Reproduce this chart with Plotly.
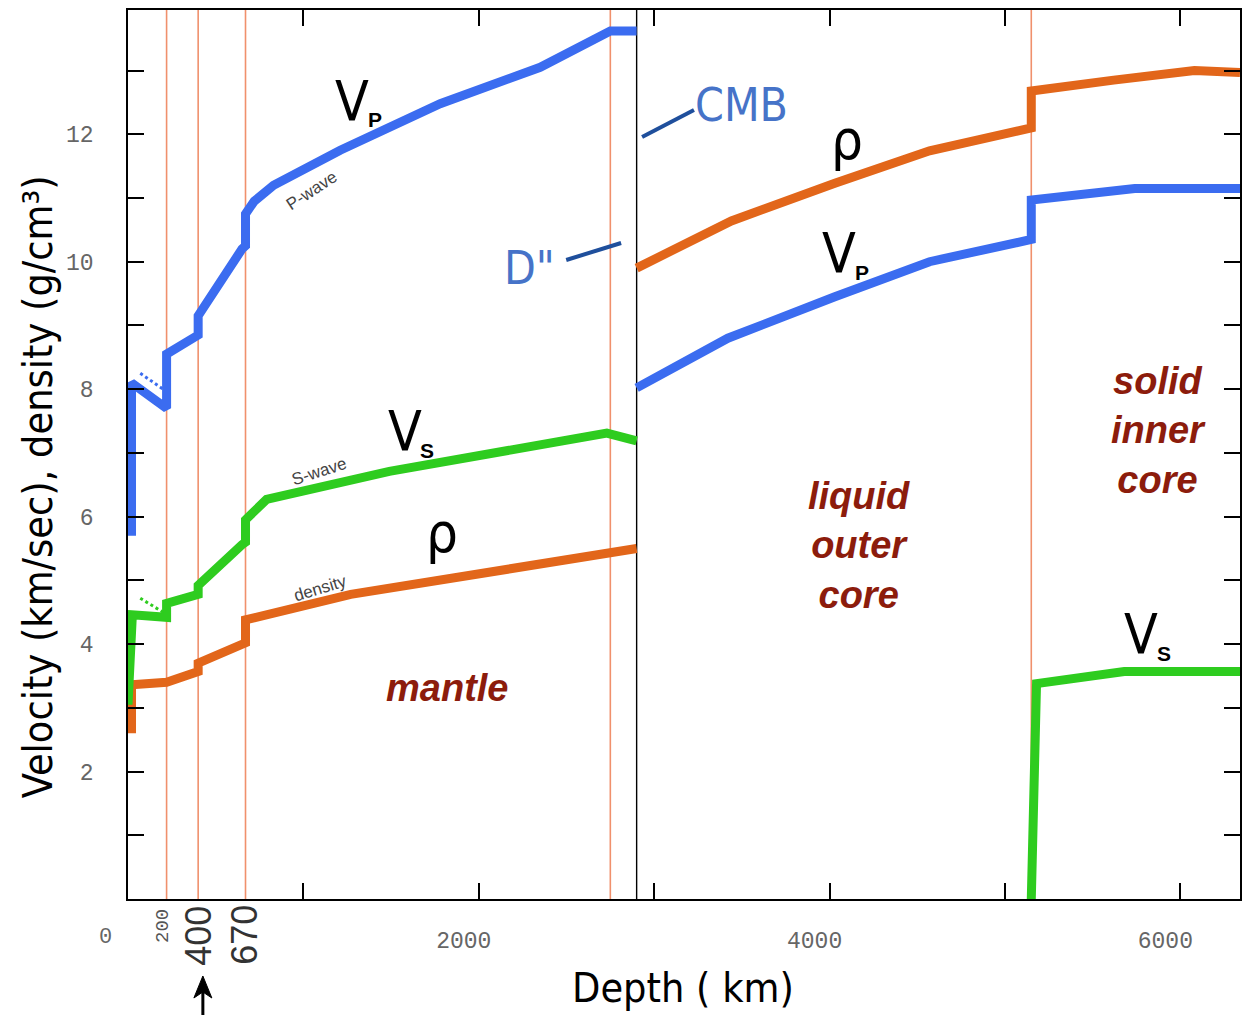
import plotly.graph_objects as go

# ---------------- data (depth in km, values) ----------------
vp_mantle_depth = [20, 20, 220, 220, 400, 400, 650, 670, 670, 720, 830, 1210, 1780, 2350, 2750, 2900]
vp_mantle_val = [5.7, 8.1, 7.7, 8.55, 8.85, 9.15, 10.2, 10.25, 10.75, 10.95, 11.2, 11.75, 12.48, 13.05, 13.62, 13.62]

vp_core_depth = [2900, 3420, 4030, 4570, 5150, 5150, 5740, 6340]
vp_core_val = [8.02, 8.8, 9.45, 10.0, 10.35, 10.97, 11.15, 11.15]

rho_mantle_depth = [20, 20, 220, 400, 400, 650, 670, 670, 1270, 2900]
rho_mantle_val = [2.6, 3.36, 3.4, 3.57, 3.7, 4.0, 4.02, 4.38, 4.78, 5.5]

rho_core_depth = [2900, 3440, 4030, 4570, 5150, 5150, 5620, 6080, 6340]
rho_core_val = [9.9, 10.64, 11.23, 11.74, 12.1, 12.68, 12.85, 13.0, 12.97]

vs_mantle_depth = [0, 25, 220, 220, 400, 400, 650, 670, 670, 790, 1490, 2160, 2730, 2900]
vs_mantle_val = [3.05, 4.46, 4.42, 4.64, 4.78, 4.92, 5.56, 5.6, 5.95, 6.27, 6.71, 7.03, 7.31, 7.19]

vs_inner_depth = [5150, 5180, 5680, 6340]
vs_inner_val = [0, 3.38, 3.57, 3.57]

lvz_vp_depth = [70, 200]
lvz_vp_val = [8.25, 8.0]
lvz_vs_depth = [70, 200]
lvz_vs_val = [4.72, 4.5]

discontinuity_depths = [220, 400, 670, 2750, 5150]
cmb_depth = 2900

x_tick_vals = [2000, 4000, 6000]
x_tick_text = ["2000", "4000", "6000"]
x_minor_step = 1000
y_tick_vals = [2, 4, 6, 8, 10, 12]
y_tick_text = ["2", "4", "6", "8", "10", "12"]
y_minor_step = 1

X_RANGE = [0, 6340]
Y_RANGE = [0, 13.95]

# ---------------- styling ----------------
BLUE = "#3b6cf0"
ORANGE = "#e2661a"
GREEN = "#2ecc1f"
SALMON = "#f0906c"
DARKRED = "#8c1c0c"
CMBBLUE = "#4673c8"
LEADER = "#1f4f9c"
NARROW = "Liberation Sans Narrow, DejaVu Sans Condensed, Arial Narrow, sans-serif"
SANS = "Liberation Sans, Arial, sans-serif"
MONO = "Liberation Mono, DejaVu Sans Mono, monospace"

W, H = 1242, 1015
L, R, T, B = 128, 0, 10, 116
PW = W - L - R
PH = H - T - B


def PX(px):
    return (px - L) / PW


def PY(py):
    return (H - B - py) / PH


def DX(px):
    return X_RANGE[0] + PX(px) * (X_RANGE[1] - X_RANGE[0])


def DY(py):
    return Y_RANGE[0] + PY(py) * (Y_RANGE[1] - Y_RANGE[0])


fig = go.Figure()

# discontinuity lines
vx, vy = [], []
for d in discontinuity_depths:
    vx += [d, d, None]
    vy += [Y_RANGE[0], Y_RANGE[1], None]
fig.add_trace(go.Scatter(x=vx, y=vy, mode="lines", line=dict(color=SALMON, width=1.6), hoverinfo="skip"))
fig.add_trace(go.Scatter(x=[cmb_depth, cmb_depth], y=Y_RANGE, mode="lines",
                         line=dict(color="black", width=1.4), hoverinfo="skip"))


def curve(xs, ys, color, width=9, dash=None):
    fig.add_trace(go.Scatter(x=xs, y=ys, mode="lines",
                             line=dict(color=color, width=width, dash=dash), hoverinfo="skip"))


curve(vp_mantle_depth, vp_mantle_val, BLUE)
curve(vp_core_depth, vp_core_val, BLUE)
curve(rho_mantle_depth, rho_mantle_val, ORANGE)
curve(rho_core_depth, rho_core_val, ORANGE)
curve(vs_mantle_depth, vs_mantle_val, GREEN)
curve(vs_inner_depth, vs_inner_val, GREEN)
curve(lvz_vp_depth, lvz_vp_val, BLUE, width=3, dash="dot")
curve(lvz_vs_depth, lvz_vs_val, GREEN, width=3, dash="dot")

ann = []


def text(px, py, s, size, family=SANS, color="black", angle=0, **kw):
    ann.append(dict(x=PX(px), y=PY(py), xref="paper", yref="paper", text=s, showarrow=False,
                    font=dict(size=size, family=family, color=color), textangle=angle,
                    xanchor="center", yanchor="middle", borderpad=0, **kw))


def vlabel(px, py, sub):
    text(px, py, "V", 55, NARROW)
    text(px + 23, py + 19, "<b>%s</b>" % sub, 21, SANS)


# curve labels
vlabel(352, 101, "P")
vlabel(405, 431, "S")
vlabel(840, 253, "P")
vlabel(1143, 634, "S")
text(443, 532, "ρ", 56, NARROW)
text(848, 140, "ρ", 56, NARROW)

text(312, 190, "P-wave", 17, SANS, "#444", -33)
text(320, 472, "S-wave", 17, SANS, "#444", -18)
text(320, 588, "density", 17, SANS, "#444", -17)

# region labels
text(448, 688, "<b><i>mantle</i></b>", 38, SANS, DARKRED)
text(860, 545, "<b><i>liquid<br>outer<br>core</i></b>", 38, SANS, DARKRED)
text(1160, 430, "<b><i>solid<br>inner<br>core</i></b>", 38, SANS, DARKRED)

# CMB and D''
text(743, 105, "CMB", 46, NARROW, CMBBLUE)
text(530, 268, 'D"', 46, NARROW, CMBBLUE)

# axis titles
text(38, 487, "Velocity (km/sec), density (g/cm³)", 41, NARROW, "black", -90)
text(684, 988, "Depth ( km)", 41, NARROW)

# special depth labels
text(105, 937, "0", 22, MONO, "#666")
text(163, 926, "200", 19, MONO, "#555", -90)
text(198, 936, "400", 36, SANS, "#333", -90)
text(245, 935, "670", 36, SANS, "#333", -90)

fig.update_layout(annotations=ann)

# leader lines and arrow
shapes = [
    dict(type="line", xref="x", yref="y", x0=DX(643), y0=DY(137), x1=DX(695), y1=DY(110),
         line=dict(color=LEADER, width=4)),
    dict(type="line", xref="x", yref="y", x0=DX(567), y0=DY(260), x1=DX(622), y1=DY(243),
         line=dict(color=LEADER, width=4)),
    dict(type="line", xref="paper", yref="paper", x0=PX(203), y0=PY(1015), x1=PX(203), y1=PY(990),
         line=dict(color="black", width=3)),
    dict(type="path", xref="paper", yref="paper",
         path="M %f,%f L %f,%f L %f,%f L %f,%f Z" % (PX(203), PY(976), PX(212), PY(998),
                                                    PX(203), PY(992), PX(194), PY(998)),
         fillcolor="black", line=dict(color="black", width=1)),
]

tickstyle = dict(ticks="inside", ticklen=16, tickwidth=1.5, tickcolor="black")

fig.update_layout(
    width=W, height=H,
    margin=dict(l=L, r=R, t=T, b=B, pad=0),
    paper_bgcolor="white", plot_bgcolor="white",
    showlegend=False,
    shapes=shapes,
    xaxis=dict(range=X_RANGE, tickmode="array", tickvals=x_tick_vals, ticktext=x_tick_text,
               **tickstyle,
               minor=dict(dtick=x_minor_step, tick0=0, **tickstyle),
               showline=True, linecolor="black", linewidth=1.5, mirror="ticks",
               showgrid=False, zeroline=False,
               tickfont=dict(family=MONO, size=23, color="#666"),
               ticklabelstandoff=20, ticklabelshift=-15),
    yaxis=dict(range=Y_RANGE, tickmode="array", tickvals=y_tick_vals, ticktext=y_tick_text,
               **tickstyle,
               minor=dict(dtick=y_minor_step, tick0=0, **tickstyle),
               showline=True, linecolor="black", linewidth=1.5, mirror="ticks",
               showgrid=False, zeroline=False,
               tickfont=dict(family=MONO, size=23, color="#666"),
               ticklabelstandoff=28),
)

fig.write_html("out.html", config={"displayModeBar": False},
               post_script="document.body.style.margin='0';document.body.style.overflow='hidden';")
